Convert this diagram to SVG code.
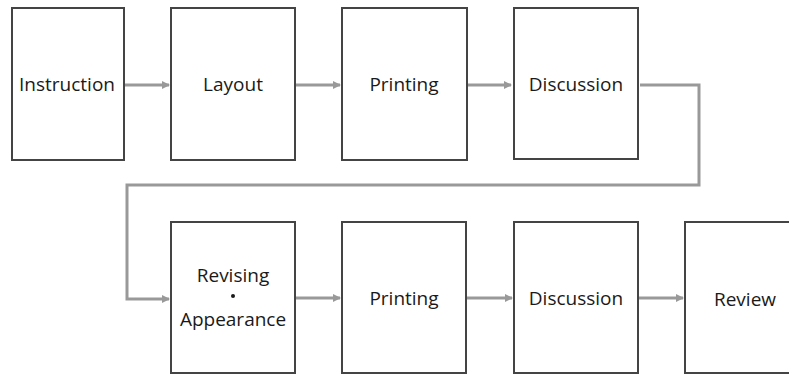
<svg xmlns="http://www.w3.org/2000/svg" width="789" height="376" viewBox="0 0 789 376">
  <defs>
    <marker id="arrow" markerWidth="8" markerHeight="8" refX="7" refY="4" orient="auto" markerUnits="userSpaceOnUse">
      <path d="M0,0 L8,4 L0,8 Z" fill="#999"/>
    </marker>
    <style>
      .box { fill: #fff; stroke: #444; stroke-width: 2; }
      .lbl { font-family: "Open Sans", "Noto Sans", sans-serif; font-size: 19px; fill: #1a1a1a; text-anchor: middle; dominant-baseline: central; }
      .conn { fill: none; stroke: #999; stroke-width: 3; }
    </style>
  </defs>
  <rect width="789" height="376" fill="#fff"/>

  <g id="connectors">
    <path class="conn" d="M125,85 H169" marker-end="url(#arrow)"/>
    <path class="conn" d="M296,85 H340" marker-end="url(#arrow)"/>
    <path class="conn" d="M468,85 H511" marker-end="url(#arrow)"/>
    <path class="conn" d="M640,85 H699 V185 H127 V299 H169" marker-end="url(#arrow)"/>
    <path class="conn" d="M296,298 H340" marker-end="url(#arrow)"/>
    <path class="conn" d="M467,298 H512" marker-end="url(#arrow)"/>
    <path class="conn" d="M639,298 H683" marker-end="url(#arrow)"/>
  </g>

  <g id="instruction">
    <rect class="box" x="12" y="8" width="112" height="152"/>
    <text class="lbl" x="67" y="84">Instruction</text>
  </g>
  <g id="layout">
    <rect class="box" x="171" y="8" width="124" height="152"/>
    <text class="lbl" x="233" y="84">Layout</text>
  </g>
  <g id="printing1">
    <rect class="box" x="342" y="8" width="125" height="152"/>
    <text class="lbl" x="404" y="84">Printing</text>
  </g>
  <g id="discussion1">
    <rect class="box" x="514" y="8" width="124" height="151"/>
    <text class="lbl" x="576" y="84">Discussion</text>
  </g>

  <g id="revising">
    <rect class="box" x="171" y="222" width="124" height="151"/>
    <text class="lbl" x="233" y="275">Revising</text>
    <circle cx="233" cy="296" r="2" fill="#1a1a1a"/>
    <text class="lbl" x="233" y="319">Appearance</text>
  </g>
  <g id="printing2">
    <rect class="box" x="342" y="222" width="124" height="151"/>
    <text class="lbl" x="404" y="298">Printing</text>
  </g>
  <g id="discussion2">
    <rect class="box" x="514" y="222" width="124" height="151"/>
    <text class="lbl" x="576" y="298">Discussion</text>
  </g>
  <g id="review">
    <rect class="box" x="685" y="222" width="124" height="151"/>
    <text class="lbl" x="745" y="299">Review</text>
  </g>
</svg>
